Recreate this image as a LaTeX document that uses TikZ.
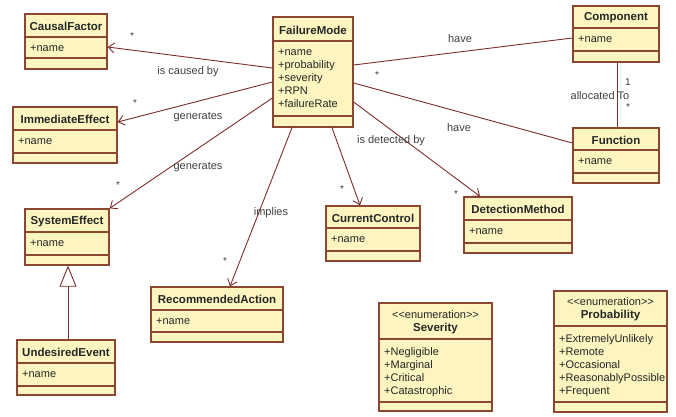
\documentclass[tikz,border=0pt]{standalone}
\usepackage{fontspec}
\setmainfont{Liberation Sans}
\usetikzlibrary{arrows.meta,fit}
\definecolor{boxfill}{RGB}{253,245,192}
\definecolor{boxline}{RGB}{140,70,50}
\definecolor{linkc}{RGB}{125,45,45}
\tikzset{
 classbox/.style={draw=boxline, fill=boxfill, line width=1.3pt, inner sep=0pt},
 divider/.style={draw=boxline, line width=1.1pt},
 ctitle/.style={font=\fontsize{11.5}{13}\selectfont\bfseries, inner sep=0pt, align=center, text=black!85},
 cattr/.style={font=\fontsize{11}{13}\selectfont, inner sep=0pt, align=left, anchor=north west, text=black!85},
 link/.style={draw=linkc, line width=0.9pt},
 nav/.style={link, -{Straight Barb[length=6pt,width=10pt]}},
 gen/.style={link, -{Triangle[open,length=21pt,width=17pt,fill=white]}},
 lbl/.style={font=\fontsize{11}{13}\selectfont, inner sep=0pt, text=black!75},
 mult/.style={font=\fontsize{10}{11}\selectfont, inner sep=0pt, text=black!75},
}
\newcommand{\stereo}{{\mdseries\fontsize{11}{13}\selectfont \textless\kern0pt\textless\kern0pt enumeration\kern0pt\textgreater\kern0pt\textgreater}}
\newcommand{\umlclass}[9]{%
 \node[classbox, fit={(#2,#3) ({#2+#4},#7)}] (#1) {};
 \draw[divider] (#2,#5) -- ({#2+#4},#5);
 \draw[divider] (#2,#6) -- ({#2+#4},#6);
 \node[ctitle] at ({#2+#4/2},{(#3+#5)/2+1}) {#8};
 \node[cattr] at ({#2+5},{#5+8}) {#9};
}
\begin{document}
\begin{tikzpicture}[x=1pt,y=-1pt]
\useasboundingbox[fill=white] (0,0) rectangle (676,416);

\umlclass{cf}{25}{14}{82}{37}{58}{69}{CausalFactor}{+name}
\umlclass{ie}{13}{107}{104}{130}{153}{163}{ImmediateEffect}{+name}
\umlclass{fm}{273}{17}{80}{41}{116}{127}{FailureMode}{+name\\+probability\\+severity\\+RPN\\+failureRate}
\umlclass{co}{573}{6}{86}{28}{51}{62}{Component}{+name}
\umlclass{fn}{573}{128}{86}{150}{173}{183}{Function}{+name}
\umlclass{se}{25}{209}{84}{232}{255}{265}{SystemEffect}{+name}
\umlclass{ue}{17}{340}{98}{363}{386}{395}{UndesiredEvent}{+name}
\umlclass{ra}{151}{287}{132}{310}{332}{342}{RecommendedAction}{+name}
\umlclass{cc}{326}{206}{94}{228}{251}{261}{CurrentControl}{+name}
\umlclass{dm}{464}{197}{108}{220}{243}{253}{DetectionMethod}{+name}
\umlclass{sv}{379}{303}{113}{339}{402}{411}{\stereo\\Severity}{+Negligible\\+Marginal\\+Critical\\+Catastrophic}
\umlclass{pr}{554}{291}{113}{326}{402}{412}{\stereo\\Probability}{+ExtremelyUnlikely\\+Remote\\+Occasional\\+ReasonablyPossible\\+Frequent}

% associations from FailureMode
\draw[nav] (fm.west |- 0,68) -- (cf.east |- 0,47);
\draw[nav] (fm.west |- 0,82) -- (ie.east |- 0,122);
\draw[nav] (fm.west |- 0,98) -- (se.north east);
\draw[nav] (292,0 |- fm.south) -- (230,0 |- ra.north);
\draw[nav] (332,0 |- fm.south) -- (360,0 |- cc.north);
\draw[nav] (fm.east |- 0,102) -- (480,0 |- dm.north);
\draw[link] (fm.east |- 0,65) -- (co.west |- 0,38);
\draw[link] (fm.east |- 0,83) -- (fn.west |- 0,143);
\draw[link] (617,0 |- co.south) -- (617,0 |- fn.north);
\draw[gen] (68,0 |- ue.north) -- (68,0 |- se.south);

% labels
\node[lbl] at (188,72) {is caused by};
\node[lbl] at (198,117) {generates};
\node[lbl] at (198,167) {generates};
\node[lbl] at (271,213) {implies};
\node[lbl] at (391,141) {is detected by};
\node[lbl] at (460,39) {have};
\node[lbl] at (459,128) {have};
\node[lbl] at (600,96) {allocated To};

% multiplicities
\node[mult] at (132,36) {*};
\node[mult] at (135,103) {*};
\node[mult] at (118,185) {*};
\node[mult] at (225,261) {*};
\node[mult] at (342,189) {*};
\node[mult] at (456,194) {*};
\node[mult] at (377,75) {*};
\node[mult] at (628,82) {1};
\node[mult] at (628,107) {*};
\end{tikzpicture}
\end{document}
